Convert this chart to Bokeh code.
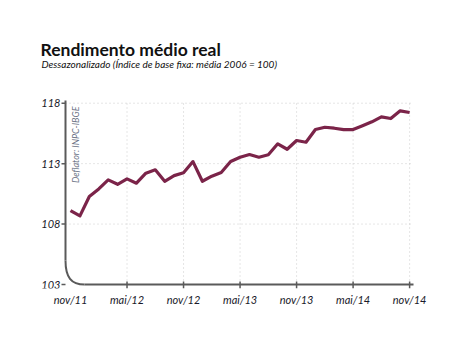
from bokeh.plotting import figure
from bokeh.models import Range1d, FixedTicker, Label
from bokeh.core.properties import value
from bokeh.embed import file_html
from bokeh.resources import INLINE
import math

# ---- data ----
months = list(range(37))  # nov/11 .. nov/14
values = [109.12, 108.68, 110.28, 110.91, 111.66, 111.29, 111.74, 111.38, 112.21, 112.49,
          111.54, 112.01, 112.24, 113.17, 111.54, 111.96, 112.26, 113.17, 113.53, 113.75,
          113.53, 113.73, 114.64, 114.19, 114.91, 114.77, 115.82, 116.01, 115.93, 115.82,
          115.82, 116.13, 116.46, 116.87, 116.73, 117.37, 117.23]
x_ticks = [0, 6, 12, 18, 24, 30, 36]
x_labels = ["nov/11", "mai/12", "nov/12", "mai/13", "nov/13", "mai/14", "nov/14"]
y_ticks = [103, 108, 113, 118]
y_labels = ["103", "108", "113", "118"]

W, H = 468, 348
bottom = 60
frame_h = H - bottom          # frame covers the canvas above the x axis
px_per_month = 9.42
px_per_unit = 12.087
x0 = -70 / px_per_month       # nov/11 sits 70 px from the left edge
x1 = x0 + W / px_per_month
y0 = 103 - 4 / px_per_unit    # 103 sits 4 px above the frame bottom
y1 = y0 + frame_h / px_per_unit

def X(px):  # canvas px -> data x (for decorations)
    return x0 + px / px_per_month

def Y(py):  # canvas px (from top) -> data y
    return y0 + (frame_h - py) / px_per_unit

FONT = "Lato"
line_color = "#7B2449"
axis_color = "#5a5a5a"
grid_color = "#cccccc"
label_color = "#1a1a2a"

p = figure(width=W, height=H, output_backend="svg", toolbar_location=None,
           x_range=Range1d(x0, x1), y_range=Range1d(y0, y1), y_axis_location=None,
           min_border_left=0, min_border_right=0, min_border_top=0,
           min_border_bottom=bottom,
           background_fill_color="white", border_fill_color="white")
p.outline_line_color = None
p.title = None
p.xgrid.visible = False
p.ygrid.visible = False

# titles
p.add_layout(Label(x=X(40), y=Y(49), text="Rendimento médio real",
                   text_font=FONT, text_font_style="bold", text_font_size="17.5px",
                   text_color="#111111", text_align="left", text_baseline="alphabetic"))
p.add_layout(Label(x=X(41), y=Y(63.5),
                   text="Dessazonalizado (Índice de base fixa: média 2006 = 100)",
                   text_font=FONT, text_font_style="italic", text_font_size="10px",
                   text_color="#111111", text_align="left", text_baseline="alphabetic"))

# x axis (library axis for labels; line and ticks drawn below)
ax = p.xaxis[0]
ax.axis_line_color = None
ax.major_tick_line_color = None
ax.minor_tick_line_color = None
ax.major_label_text_font = FONT
ax.major_label_text_font_style = "italic"
ax.major_label_text_font_size = "11px"
ax.major_label_text_color = label_color
ax.ticker = FixedTicker(ticks=x_ticks)
ax.major_label_overrides = {t: l for t, l in zip(x_ticks, x_labels)}
ax.major_tick_in = 0
ax.major_tick_out = 0
ax.major_label_standoff = 4

# grid
grid_top = Y(100)
grid_right = X(413)
ax_x = X(65)
ax_y = y_ticks[0]
p.segment(x0=x_ticks[1:], y0=[ax_y] * 6, x1=x_ticks[1:], y1=[grid_top] * 6,
          line_color=grid_color, line_dash="1 3", line_width=1)
p.segment(x0=[ax_x] * 3, y0=y_ticks[1:], x1=[grid_right] * 3, y1=y_ticks[1:],
          line_color=grid_color, line_dash="1 3", line_width=1)

# x ticks (the nov/11 one is hidden by the rounded corner)
p.segment(x0=x_ticks[1:], y0=[Y(281)] * 6, x1=x_ticks[1:], y1=[Y(288)] * 6,
          line_color=axis_color, line_width=1.5)

# y ticks and labels
p.segment(x0=[X(61)] * 4, y0=y_ticks, x1=[ax_x] * 4, y1=y_ticks,
          line_color=axis_color, line_width=1.5)
p.text(x=[X(60)] * 4, y=y_ticks, text=y_labels, text_font=value(FONT),
       text_font_style="italic", text_font_size=value("11px"), text_color=label_color,
       text_align="right", text_baseline="middle")

# axis lines with rounded corner
r_x = 19 / px_per_month
r_y = 24 / px_per_unit
k = 0.3
p.line([ax_x, ax_x], [grid_top, ax_y + r_y], line_color=axis_color, line_width=2)
p.bezier(x0=[ax_x], y0=[ax_y + r_y], x1=[ax_x + r_x], y1=[ax_y],
         cx0=[ax_x], cy0=[ax_y + r_y * k], cx1=[ax_x + r_x * k], cy1=[ax_y],
         line_color=axis_color, line_width=2)
p.line([ax_x + r_x, grid_right], [ax_y, ax_y], line_color=axis_color, line_width=2)

# data line
p.line(months, values, line_color=line_color, line_width=3.2, line_join="round")

# deflator note
p.add_layout(Label(x=X(75), y=Y(106), text="Deflator: INPC-IBGE",
                   angle=math.pi / 2, text_align="right", text_baseline="middle",
                   text_font=FONT, text_font_style="italic", text_font_size="9px",
                   text_color="#6b7385"))

open("out.html", "w").write(file_html(p, INLINE))
